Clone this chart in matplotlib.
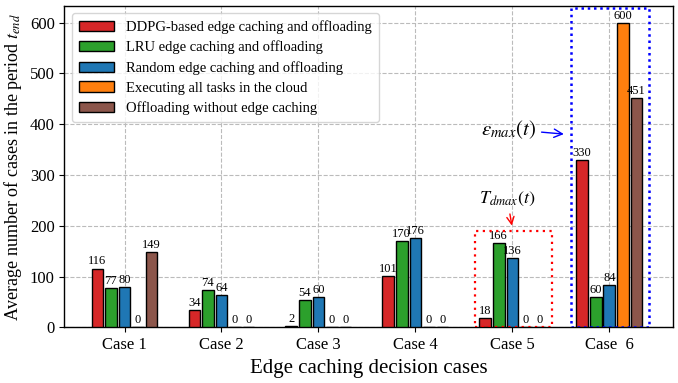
import numpy as np
import matplotlib
matplotlib.use("Agg")
import matplotlib.pyplot as plt
from matplotlib.patches import Rectangle

plt.rcParams['font.family'] = ['Liberation Serif', 'DejaVu Serif']
plt.rcParams['mathtext.fontset'] = 'stix'

# dados
cases = ["Case 1", "Case 2", "Case 3", "Case 4", "Case 5", "Case  6"]
labels = ["DDPG-based edge caching and offloading",
          "LRU edge caching and offloading",
          "Random edge caching and offloading",
          "Executing all tasks in the cloud",
          "Offloading without edge caching"]
ddpg = [116, 34, 2, 101, 18, 330]
lru = [77, 74, 54, 170, 166, 60]
random_ = [80, 64, 60, 176, 136, 84]
cloud = [0, 0, 0, 0, 0, 600]
no_cache = [149, 0, 0, 0, 0, 451]
series = [ddpg, lru, random_, cloud, no_cache]
colors = ["#d62728", "#2ca02c", "#1f77b4", "#ff7f0e", "#8c564b"]

fig, ax = plt.subplots(figsize=(6.78, 3.83), dpi=100)
x = np.arange(len(cases))
step = 0.14
width = 0.12

for i, (vals, col, lab) in enumerate(zip(series, colors, labels)):
    pos = x + (i - 2) * step
    ax.bar(pos, vals, width, color=col, edgecolor="black", linewidth=1, label=lab, zorder=3)
    for p, v in zip(pos, vals):
        ax.text(p, v + 2, str(v), ha="center", va="bottom", fontsize=9, zorder=4)

ax.set_xlim(-0.62, 5.66)
ax.set_ylim(0, 633)
ax.set_xticks(x)
ax.set_xticklabels(cases, fontsize=12)
ax.tick_params(axis="y", labelsize=12)
ax.set_xlabel("Edge caching decision cases", fontsize=15)
ax.set_ylabel(r"Average number of cases in the period $t_{end}$", fontsize=13)
ax.grid(True, linestyle="--", color="#bbbbbb", linewidth=0.8, zorder=0)

# caixas pontilhadas
ax.add_patch(Rectangle((3.61, 0), 0.80, 190, fill=False, edgecolor="red",
                       linestyle=(0, (1, 2)), linewidth=1.6, zorder=5))
ax.add_patch(Rectangle((4.61, 0), 0.80, 629, fill=False, edgecolor="blue",
                       linestyle=(0, (1, 1.5)), linewidth=1.8, zorder=5))

ax.annotate(r"$T_{dmax}(t)$", xy=(4.0, 195), xytext=(3.95, 252), ha="center", va="center",
            fontsize=13, arrowprops=dict(arrowstyle="->", color="red", lw=1))
ax.annotate(r"$\varepsilon_{max}(t)$", xy=(4.56, 380), xytext=(3.96, 390), ha="center", va="center",
            fontsize=15, arrowprops=dict(arrowstyle="->", color="blue", lw=1))

ax.legend(loc="upper left", fontsize=10.5, framealpha=0.8, handlelength=2.4,
          borderpad=0.5, labelspacing=0.45)

for s in ax.spines.values():
    s.set_linewidth(1)

plt.subplots_adjust(left=0.095, right=0.993, top=0.985, bottom=0.145)
plt.savefig("out.png")
